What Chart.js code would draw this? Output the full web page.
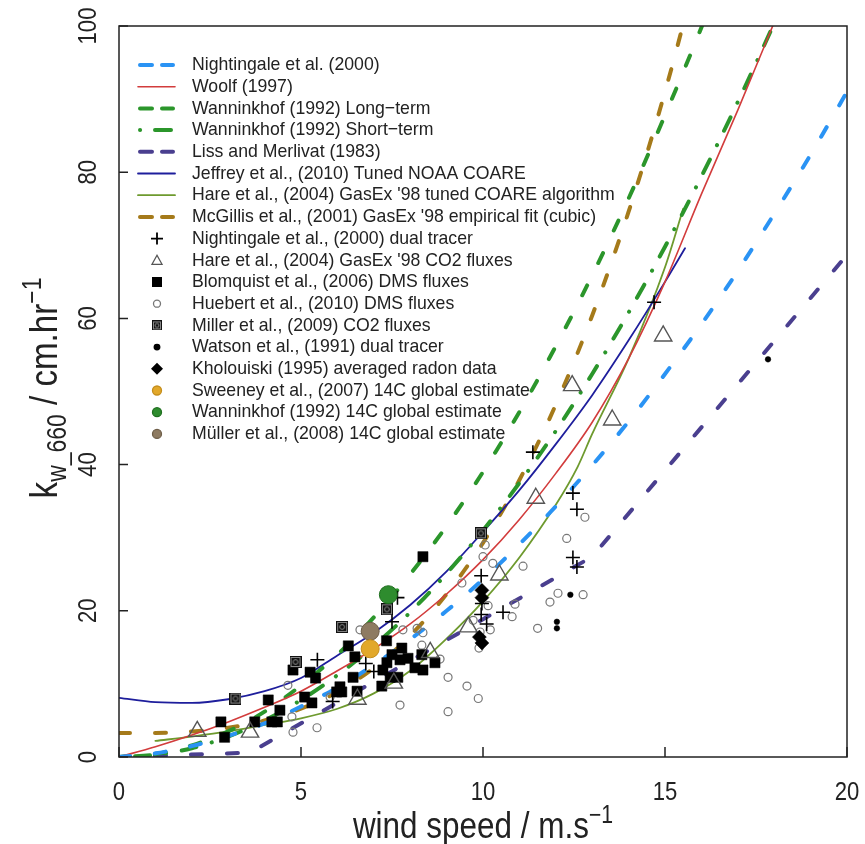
<!DOCTYPE html>
<html>
<head>
<meta charset="utf-8">
<script src="https://cdn.jsdelivr.net/npm/chart.js@4.4.1/dist/chart.umd.min.js"></script>
<style>
  html, body { margin: 0; padding: 0; background: #fff; }
  #c { display: block; }
</style>
</head>
<body>
<canvas id="c" width="865" height="844"></canvas>
<script>
// ---- parameterisations (k660 in cm/hr vs U10 in m/s) ----
const nightingaleU = [0,1,2,3,4,5,6,7,8,9,10,11,12,13,14,15,16,17,18,19,20];
const nightingaleK = [0,0.5,1.5,2.9,4.6,6.9,9.5,12.6,16.1,20,24.3,29.1,34.3,39.9,45.9,52.4,59.2,66.5,74.3,82.4,91];

const woolfU = [0,1,2,3,4,5,6,7,8,9,10,11,12,13,14,15,16,17,18];
const woolfK = [0,1.4,3.0,4.8,6.8,9.0,11.8,14.8,18.2,22.3,27.0,32.5,38.8,45.8,54.5,65,77,88.5,100.5];

const wannLongU = [0,1,2,3,4,5,6,7,8,9,10,11,12,13,14,15,16,17];
const wannLongK = [0,0.4,1.6,3.5,6.2,9.8,14,19.1,25,31.6,39,47.2,56.2,65.9,76.4,87.8,99.8,112.7];

const wannShortU = [0,1,2,3,4,5,6,7,8,9,10,11,12,13,14,15,16,17,18,19];
const wannShortK = [0,0.3,1.2,2.8,5,7.8,11.2,15.2,19.8,25.1,31,37.5,44.6,52.4,60.8,69.8,79.4,89.6,100.4,111.9];

const lissU = [0,3.6,13,20];
const lissK = [0,0.6,27.4,68.7];

const jeffreyU = [0,1,2,3,4,5,6,7,8,9,10,11,12,13,14,15,15.55];
const jeffreyK = [8.1,7.5,7.4,7.9,9.0,10.8,13.9,17.0,20.8,25.4,30.8,36.5,42.8,49.5,57,65,69.6];

const hareCoareU = [1,2,3,4,5,6,7,8,9,10,11,12,12.6,13,14,15,15.5];
const hareCoareK = [2.2,2.8,3.5,4.4,5.3,6.6,8.7,11.8,16.2,21.3,27.3,34.5,39.7,44.2,54.5,67,75];

const mcgillisU = [0,1,2,3,4,5,6,7,8,9,10,11,12,13,14,15,16];
const mcgillisK = [3.3,3.3,3.5,4.0,5.0,6.6,8.9,12.2,16.6,22.3,29.3,37.9,48.2,60.4,74.6,91,109.8];

// ---- observations ----
const nightObsU = [5.45,5.87,6.78,7.0,7.5,7.65,9.95,9.97,9.95,10.1,10.55,11.37,12.47,12.58,12.47,12.58,14.7];
const nightObsK = [13.3,7.6,12.8,11.7,18.5,21.8,24.8,21.0,19.5,18.2,19.8,41.7,36.1,33.9,27.3,26.0,62.2];

const hareObsU = [2.15,3.6,6.55,7.55,8.55,9.6,10.45,11.45,12.45,13.55,14.95];
const hareObsK = [3.5,3.4,7.9,10.1,14.3,17.8,24.9,35.4,50.8,46.1,57.6];

const blomquistU = [2.8,2.9,3.73,4.1,4.2,4.35,4.42,4.78,5.1,5.25,5.3,5.4,5.98,6.07,6.12,6.3,6.43,6.48,6.54,7.22,7.25,7.35,7.36,7.45,7.5,7.66,7.72,7.77,7.94,8.13,8.32,8.35,8.68,8.35];
const blomquistK = [4.8,2.7,4.8,7.8,4.8,4.8,6.4,11.9,8.2,11.6,7.4,10.8,8.9,9.6,8.9,15.2,10.9,13.7,9.0,9.7,11.9,15.9,12.9,10.9,14.0,10.9,13.3,14.9,13.5,12.2,14.0,11.9,12.9,27.4];

const huebertU = [4.64,4.75,4.78,5.44,5.8,6.62,7.72,7.8,8.19,8.35,8.32,8.82,9.04,9.04,9.42,9.56,9.73,9.87,9.89,9.92,10.0,10.06,10.14,10.2,10.27,10.8,10.88,11.1,11.5,11.84,12.06,12.3,12.75,12.8];
const huebertK = [9.8,5.5,3.4,4.0,8.2,17.4,7.1,17.4,17.6,17.0,15.3,13.4,10.9,6.2,23.8,9.7,18.7,8.0,14.9,17.1,27.4,29.0,20.7,17.4,26.5,19.2,20.9,26.1,17.6,21.2,22.4,29.9,22.2,32.8];

const millerU = [3.2,4.85,6.13,7.36,9.94];
const millerK = [8.0,13.0,17.8,20.2,30.6];

const watsonU = [12.03,12.03,12.4,17.83];
const watsonK = [17.6,18.5,22.2,54.4];

const kholU = [9.97,9.97,9.9,9.97];
const kholK = [22.8,21.8,16.4,15.6];

const sweeneyU = [6.9];   const sweeneyK = [14.8];
const wann14U = [7.4];    const wann14K = [22.2];
const muellerU = [6.9];   const muellerK = [17.2];

const xTicks = [0,5,10,15,20];
const yTicks = [0,20,40,60,80,100];

const FONT = '"Liberation Sans", Arial, sans-serif';
const INK = '#222';

function pts(us, ks) { return us.map((u, i) => ({ x: u, y: ks[i] })); }

function curve(label, us, ks, color, width, dash, linear) {
  return {
    label, data: pts(us, ks), showLine: true, pointRadius: 0,
    borderColor: color, backgroundColor: color, borderWidth: width,
    borderDash: dash || [], borderCapStyle: 'round',
    cubicInterpolationMode: linear ? 'default' : 'monotone', tension: 0,
    order: 5, legendLine: dash ? (dash.length === 4 ? 'dotdash' : 'dash') : 'solid'
  };
}

function obs(label, us, ks, style, r, fill, stroke, bw, order) {
  return {
    label, data: pts(us, ks), showLine: false,
    pointStyle: style, pointRadius: r, pointHoverRadius: r,
    backgroundColor: fill, borderColor: stroke, pointBorderWidth: bw, borderWidth: bw,
    order: order
  };
}

// square with a ring inside, for the Miller CO2 fluxes
function millerIcon(size) {
  const c = document.createElement('canvas');
  c.width = size; c.height = size;
  const g = c.getContext('2d');
  g.fillStyle = '#111'; g.fillRect(0, 0, size, size);
  g.strokeStyle = '#888'; g.lineWidth = 1;
  g.strokeRect(1.5, 1.5, size - 3, size - 3);
  g.beginPath(); g.arc(size / 2, size / 2, size * 0.2, 0, Math.PI * 2); g.stroke();
  return c;
}
const millerBig = millerIcon(12);
const millerSmall = millerIcon(10);

const datasets = [
  curve('Nightingale et al. (2000)', nightingaleU, nightingaleK, '#2a93f4', 4, [11, 25]),
  curve('Woolf (1997)', woolfU, woolfK, '#d23c3c', 1.6),
  curve('Wanninkhof (1992) Long\u2212term', wannLongU, wannLongK, '#2b962b', 4, [11, 25]),
  curve('Wanninkhof (1992) Short\u2212term', wannShortU, wannShortK, '#2b962b', 4, [0.1, 16, 15, 16]),
  curve('Liss and Merlivat (1983)', lissU, lissK, '#4a3f8f', 4, [11, 25], true),
  curve('Jeffrey et al., (2010) Tuned NOAA COARE', jeffreyU, jeffreyK, '#1e1e9c', 1.8),
  curve('Hare et al., (2004) GasEx \'98 tuned COARE algorithm', hareCoareU, hareCoareK, '#6e9a2e', 1.8),
  curve('McGillis et al., (2001) GasEx \'98 empirical fit (cubic)', mcgillisU, mcgillisK, '#a57a1a', 4, [11, 25]),
  obs('Nightingale et al., (2000) dual tracer', nightObsU, nightObsK, 'cross', 7, '#000', '#000', 1.6, 2),
  obs('Hare et al., (2004) GasEx \'98 CO2 fluxes', hareObsU, hareObsK, 'triangle', 10, 'rgba(0,0,0,0)', '#555', 1.4, 3),
  obs('Blomquist et al., (2006) DMS fluxes', blomquistU, blomquistK, 'rect', 7.2, '#000', '#000', 0.5, 3),
  obs('Huebert et al., (2010) DMS fluxes', huebertU, huebertK, 'circle', 4, 'rgba(255,255,255,0)', '#777', 1.2, 3),
  obs('Miller et al., (2009) CO2 fluxes', millerU, millerK, millerBig, 6, '#111', '#111', 1, 2),
  obs('Watson et al., (1991) dual tracer', watsonU, watsonK, 'circle', 2.8, '#000', '#000', 0.5, 2),
  obs('Kholouiski (1995) averaged radon data', kholU, kholK, 'rectRot', 7, '#000', '#000', 0.5, 2),
  obs('Sweeney et al., (2007) 14C global estimate', sweeneyU, sweeneyK, 'circle', 9, '#e2a82a', '#c58e1c', 1, 1),
  obs('Wanninkhof (1992) 14C global estimate', wann14U, wann14K, 'circle', 9, '#2e8c2e', '#1f6f1f', 1, 1),
  obs('M\u00fcller et al., (2008) 14C global estimate', muellerU, muellerK, 'circle', 9, '#8e7b62', '#6e5e48', 1, 1)
];

function drawText(ctx, s, x, y, size, align, sx, rot) {
  ctx.save();
  ctx.translate(x, y);
  if (rot) ctx.rotate(rot);
  ctx.scale(sx, 1);
  ctx.font = size + 'px ' + FONT;
  ctx.textAlign = align;
  ctx.fillText(s, 0, 0);
  ctx.restore();
}

// text made of pieces with sub/superscripts, centred on (x, y)
function drawRich(ctx, parts, x, y, sx, rot) {
  ctx.save();
  ctx.translate(x, y);
  if (rot) ctx.rotate(rot);
  ctx.scale(sx, 1);
  ctx.textAlign = 'left';
  let total = 0;
  parts.forEach(p => { ctx.font = p.size + 'px ' + FONT; total += ctx.measureText(p.t).width; });
  let cx = -total / 2;
  parts.forEach(p => {
    ctx.font = p.size + 'px ' + FONT;
    ctx.fillText(p.t, cx, p.dy || 0);
    cx += ctx.measureText(p.t).width;
  });
  ctx.restore();
}

function legendSymbol(ctx, ds, x, y) {
  ctx.save();
  if (ds.showLine) {
    ctx.strokeStyle = ds.borderColor;
    ctx.lineWidth = ds.borderWidth;
    ctx.lineCap = 'round';
    ctx.beginPath();
    if (ds.legendLine === 'dash') {
      ctx.moveTo(x - 17, y); ctx.lineTo(x - 5, y);
      ctx.moveTo(x + 5, y); ctx.lineTo(x + 16, y);
    } else if (ds.legendLine === 'dotdash') {
      ctx.moveTo(x - 17, y); ctx.lineTo(x - 16.9, y);
      ctx.moveTo(x - 2, y); ctx.lineTo(x + 14, y);
    } else {
      ctx.moveTo(x - 19, y); ctx.lineTo(x + 18, y);
    }
    ctx.stroke();
    ctx.restore();
    return;
  }
  const st = ds.pointStyle;
  ctx.fillStyle = ds.backgroundColor;
  ctx.strokeStyle = ds.borderColor;
  ctx.lineWidth = 1.3;
  ctx.beginPath();
  if (st === 'cross') {
    ctx.lineWidth = 1.8;
    ctx.moveTo(x - 6, y); ctx.lineTo(x + 6, y);
    ctx.moveTo(x, y - 6); ctx.lineTo(x, y + 6);
    ctx.stroke();
  } else if (st === 'triangle') {
    ctx.moveTo(x, y - 5); ctx.lineTo(x + 5, y + 4); ctx.lineTo(x - 5, y + 4); ctx.closePath();
    ctx.stroke();
  } else if (st === 'rect') {
    ctx.fillRect(x - 5, y - 5, 10, 10);
  } else if (st === 'rectRot') {
    ctx.moveTo(x, y - 6); ctx.lineTo(x + 6, y); ctx.lineTo(x, y + 6); ctx.lineTo(x - 6, y); ctx.closePath();
    ctx.fill();
  } else if (st === 'circle') {
    const r = ds.pointRadius > 6 ? 4.5 : (ds.pointRadius < 3 ? 2.8 : 3.5);
    ctx.arc(x, y, r, 0, Math.PI * 2);
    ctx.fill(); ctx.stroke();
  } else {
    ctx.drawImage(millerSmall, x - 5, y - 5);
  }
  ctx.restore();
}

const rLook = {
  id: 'rLook',
  beforeDraw(chart) {
    const ctx = chart.ctx;
    ctx.save();
    ctx.fillStyle = '#fff';
    ctx.fillRect(0, 0, chart.width, chart.height);
    ctx.restore();
  },
  afterDraw(chart) {
    const { ctx, chartArea: a } = chart;
    const xs = chart.scales.x, ys = chart.scales.y;
    ctx.save();
    ctx.strokeStyle = INK;
    ctx.lineWidth = 1.5;
    ctx.strokeRect(a.left, a.top, a.right - a.left, a.bottom - a.top);
    ctx.fillStyle = INK;
    ctx.textBaseline = 'alphabetic';
    ctx.beginPath();
    xTicks.forEach(v => {
      const px = xs.getPixelForValue(v);
      ctx.moveTo(px, a.bottom); ctx.lineTo(px, a.bottom - 10);
    });
    yTicks.forEach(v => {
      const py = ys.getPixelForValue(v);
      ctx.moveTo(a.left, py); ctx.lineTo(a.left + 9, py);
    });
    ctx.stroke();
    xTicks.forEach(v => drawText(ctx, String(v), xs.getPixelForValue(v), 800, 26, 'center', 0.85));
    yTicks.forEach(v => drawText(ctx, String(v), 96, ys.getPixelForValue(v), 26, 'center', 0.85, -Math.PI / 2));

    drawRich(ctx, [
      { t: 'wind speed / m.s', size: 37 },
      { t: '\u22121', size: 25, dy: -15 }
    ], 483, 838, 0.85);
    drawRich(ctx, [
      { t: 'k', size: 39 },
      { t: 'w_660', size: 27, dy: 9 },
      { t: ' / cm.hr', size: 39 },
      { t: '\u22121', size: 27, dy: -16 }
    ], 57, 388, 0.85, -Math.PI / 2);

    // legend
    chart.data.datasets.forEach((ds, i) => {
      const y = 65 + i * 21.7;
      legendSymbol(ctx, ds, 157, y);
      ctx.fillStyle = INK;
      ctx.save();
      ctx.textBaseline = 'middle';
      drawText(ctx, ds.label, 192, y, 19, 'left', 0.93);
      ctx.restore();
    });
    ctx.restore();
  }
};

window.addEventListener('load', function () {
  const ctx = document.getElementById('c').getContext('2d');
  new Chart(ctx, {
    type: 'scatter',
    data: { datasets: datasets },
    options: {
      responsive: false,
      animation: false,
      devicePixelRatio: 1,
      layout: { padding: { top: 26, right: 18, left: 0, bottom: 0 } },
      plugins: { legend: { display: false }, tooltip: { enabled: false } },
      scales: {
        x: {
          type: 'linear', min: 0, max: 20,
          ticks: { display: false, stepSize: 5 },
          grid: { display: false }, border: { display: false },
          afterFit(s) { s.height = 87; }
        },
        y: {
          type: 'linear', min: 0, max: 100,
          ticks: { display: false, stepSize: 20 },
          grid: { display: false }, border: { display: false },
          afterFit(s) { s.width = 119; }
        }
      }
    },
    plugins: [rLook]
  });
});
</script>
</body>
</html>
